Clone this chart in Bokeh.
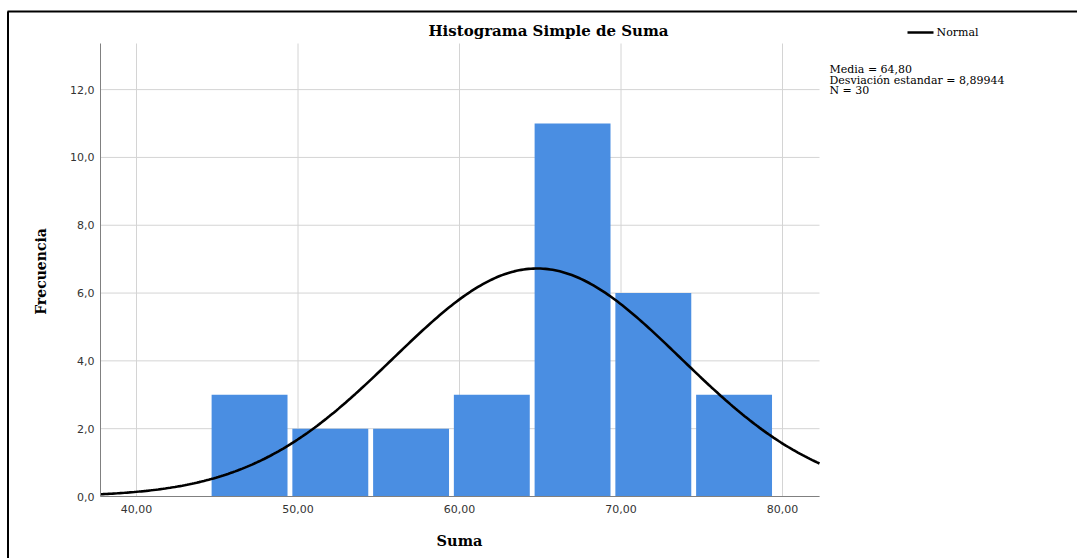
import numpy as np
from bokeh.plotting import figure
from bokeh.models import (Range1d, Label, Arrow, FixedTicker, CustomJSTickFormatter,
                          LinearAxis)
from bokeh.embed import file_html
from bokeh.resources import INLINE

# ---- data ----
bin_centers = [47, 52, 57, 62, 67, 72, 77]
frequencies = [3, 2, 2, 3, 11, 6, 3]
bin_width = 5.0
bar_width = 4.7
media = 64.80
desv = 8.89944
n_total = 30
x_ticks = [40, 50, 60, 70, 80]
y_ticks = [0, 2, 4, 6, 8, 10, 12]
title_text = "Histograma Simple de Suma"
stats_lines = ["Media = 64,80", "Desviación estandar = 8,89944", "N = 30"]
legend_label = "Normal"
x_label = "Suma"
y_label = "Frecuencia"

# ---- geometry: visual plot area (page px) and its data extent ----
X0, X1 = 37.77, 82.29
Y0, Y1 = 0.0, 13.36
PX0, PX1, PY0, PY1 = 100, 819, 496, 43


def sx(px):
    return X0 + (px - PX0) * (X1 - X0) / (PX1 - PX0)


def sy(py):
    return Y0 + (PY0 - py) * (Y1 - Y0) / (PY0 - PY1)


W, H = 1077, 558
SERIF = "DejaVu Serif"
p = figure(width=W, height=H, output_backend="svg", toolbar_location=None,
           x_range=Range1d(sx(0), sx(W)), y_range=Range1d(sy(H), sy(0)),
           x_axis_location=None, y_axis_location=None,
           min_border=0, min_border_left=0, min_border_right=0,
           min_border_top=0, min_border_bottom=0)
p.outline_line_color = None
p.background_fill_color = "white"
p.border_fill_color = "white"
p.xgrid.visible = False
p.ygrid.visible = False

GRID = "#d4d4d4"
# grid lines limited to the plot area
p.segment(x0=x_ticks, x1=x_ticks, y0=[Y0] * len(x_ticks), y1=[Y1] * len(x_ticks),
          line_color=GRID, line_width=1)
p.segment(x0=[X0] * len(y_ticks), x1=[X1] * len(y_ticks), y0=y_ticks, y1=y_ticks,
          line_color=GRID, line_width=1)

# bars
p.vbar(x=bin_centers, top=frequencies, width=bar_width, bottom=0,
       fill_color="#4a8ee2", line_color=None)

# normal curve from the displayed statistics
xs = np.linspace(X0, X1, 300)
ys = n_total * bin_width / (desv * np.sqrt(2 * np.pi)) * np.exp(-0.5 * ((xs - media) / desv) ** 2)
p.line(xs, ys, line_color="black", line_width=2.6)

# axes at fixed positions
xaxis = LinearAxis(fixed_location=Y0, bounds=(X0, X1),
                   ticker=FixedTicker(ticks=x_ticks),
                   formatter=CustomJSTickFormatter(code="return tick.toFixed(2).replace('.', ',');"))
yaxis = LinearAxis(fixed_location=X0, bounds=(Y0, Y1),
                   ticker=FixedTicker(ticks=y_ticks),
                   formatter=CustomJSTickFormatter(code="return tick.toFixed(1).replace('.', ',');"))
for ax in (xaxis, yaxis):
    ax.major_tick_line_color = None
    ax.minor_tick_line_color = None
    ax.major_tick_out = 0
    ax.major_tick_in = 0
    ax.axis_line_color = "#808080"
    ax.axis_line_width = 1
    ax.major_label_text_font = "DejaVu Sans"
    ax.major_label_text_font_size = "11px"
    ax.major_label_text_color = "#333333"
xaxis.major_label_standoff = 8
yaxis.major_label_standoff = 6
p.add_layout(xaxis, "below")
p.add_layout(yaxis, "left")

# title
p.add_layout(Label(x=sx(548), y=sy(30), text=title_text, text_align="center",
                   text_baseline="middle", text_font=SERIF,
                   text_font_style="bold", text_font_size="15px", text_color="black"))
# axis labels
p.add_layout(Label(x=sx(40), y=sy(271), text=y_label, angle=np.pi / 2,
                   text_align="center", text_baseline="middle",
                   text_font=SERIF, text_font_style="bold",
                   text_font_size="14px", text_color="black"))
p.add_layout(Label(x=sx(459), y=sy(540), text=x_label, text_align="center",
                   text_baseline="middle", text_font=SERIF,
                   text_font_style="bold", text_font_size="14.5px", text_color="black"))

# legend
p.add_layout(Arrow(end=None, x_start=sx(907), y_start=sy(32), x_end=sx(933), y_end=sy(32),
                   line_color="black", line_width=2.6))
p.add_layout(Label(x=sx(936), y=sy(32), text=legend_label, text_align="left",
                   text_baseline="middle", text_font=SERIF,
                   text_font_size="11px", text_color="black"))

# statistics
for i, line in enumerate(stats_lines):
    p.add_layout(Label(x=sx(829), y=sy(69 + 10.5 * i), text=line, text_align="left",
                       text_baseline="middle", text_font=SERIF,
                       text_font_size="11px", text_color="black"))

# outer frame (top and left edges)
p.add_layout(Arrow(end=None, x_start=sx(7), y_start=sy(11), x_end=sx(W + 5), y_end=sy(11),
                   line_color="black", line_width=2))
p.add_layout(Arrow(end=None, x_start=sx(7.5), y_start=sy(11), x_end=sx(7.5), y_end=sy(H + 5),
                   line_color="black", line_width=2))

open("out.html", "w").write(file_html(p, INLINE))
